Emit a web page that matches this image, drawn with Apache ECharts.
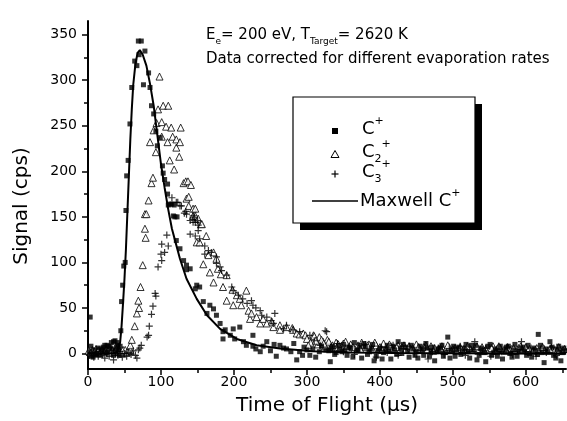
<!DOCTYPE html>
<html><head><meta charset="utf-8">
<script src="https://cdn.jsdelivr.net/npm/echarts@6/dist/echarts.min.js"></script>
<style>html,body{margin:0;padding:0;background:#fff}#c{width:567px;height:421px}</style>
</head><body><div id="c"></div>
<script>
// ---- Data ----
const xMajorTicks = [0,100,200,300,400,500,600];
const xMinorTicks = [50,150,250,350,450,550,650];
const yMajorTicks = [0,50,100,150,200,250,300,350];
const yMinorTicks = [25,75,125,175,225,275,325];

const cPlus = [
 [3,40],[2,2],[5,-3],[7,-4],[9,4],[12,0],[14,6],[16,-2],[18,5],[21,7],[23,9],[26,9],[28,8],[30,7],[32,12],[35,13],[37,14],[39,7],[41,9],[43,-2],[35,-2],[26,1],
 [4,8],[10,-1],[19,3],[24,4],[33,5],[38,3],[40,12],[42,4],[44,8],
 [45,25],[46,57],[47.5,75],[49,96],[51,100],[52,157],[53,195],[55,212],[57.5,252],[60,292],[64,321],[67,316],[69,343],[70,328],[73,343],[76,295],[78,332],
 [83,308],[85,292],[87,272],[90,263],[93,244],[95,228],[99,237],[102,206],[103,198],[105,191],[109,186],[109,175],[110,163],[113,164],[115,164],[118,163],
 [117,151],[119,150],[122,150],[121,124],[126,115],[131,102],[135,97],[140,93],[135,92],[149,75],[153,73],[147,71],[158,57],[167,53],[172,49],[163,44],
 [176,42],[181,33],[185,24],[188,26],[199,27],[208,29],[185,16],[195,20],[201,16],[213,13],[217,9],[226,20],[236,2],[226,8],[245,13],[263,9],[272,5],
 [290,2],[300,4],[308,5],[317,2],[294,-2],[286,-7],[304,-2],[326,4],
 [230,5],[240,8],[250,3],[255,10],[258,-3],[268,6],[278,2],[282,11],[296,7],[312,-4],[320,8],
 [330,3],[335,8],[340,1],[345,5],[350,10],[355,-2],[360,6],[365,12],[370,4],[375,-5],[380,7],[385,2],[390,10],[395,-3],[400,6],[405,1],[410,9],[415,-6],
 [420,4],[425,13],[430,0],[435,7],[440,-4],[445,5],[450,2],[455,8],[460,-2],[465,6],[470,3],[475,-8],[480,5],[485,9],[490,1],[493,18],[498,4],[503,-3],
 [508,7],[513,2],[518,10],[523,-5],[528,4],[533,-7],[538,6],[543,1],[548,8],[553,-2],[558,5],[563,3],[568,-6],[573,7],[578,0],[583,4],[588,-3],[593,6],
 [598,2],[603,9],[608,-4],[613,3],[617,21],[622,1],[627,5],[633,13],[638,-2],[643,4],[648,-8],[652,6],
 [332,-9],[352,4],[372,9],[392,-8],[412,3],[432,10],[452,-5],[472,7],[487,-3],[505,5],[525,9],[545,-9],[565,8],[585,10],[605,0],[625,-10],[645,8],
 [333,6],[338,-1],[343,9],[348,2],[358,7],[363,-4],[368,3],[378,11],[383,-1],[388,6],[398,3],[403,-6],[408,5],[418,8],[423,-1],[428,6],[438,3],
 [443,9],[448,-2],[458,4],[463,11],[468,-3],[478,2],[483,6],[496,-5],[501,8],[511,-1],[516,5],[521,2],[531,9],[536,-2],[541,4],[551,10],[556,1],
 [561,-3],[571,3],[576,8],[581,-4],[591,2],[596,7],[601,-2],[611,6],[616,-1],[620,9],[630,2],[636,7],[641,-5],[650,1],[655,3]
];

const c2Plus = [
 [1,3],[4,1],[6,4],[9,2],[11,5],[14,3],[17,1],[19,4],[22,2],[25,5],[27,3],[30,1],[33,4],[36,2],[39,5],[42,3],[45,1],[48,4],[51,4],[53,1],[55,2],[58,4],
 [58,9],[60,15],[64,30],[67,44],[70,50],[69,58],[72,73],[75,97],[79,127],[78,137],[78,153],
 [80,153],[83,168],[85,232],[87,187],[89,193],[90,245],[93,221],[94,253],[96,268],[98,304],[101,254],[101,238],[103,272],[107,249],[109,232],[110,272],
 [112,212],[114,248],[116,238],[118,202],[121,235],[121,226],[125,216],[126,232],[127,248],[131,187],[134,189],[135,170],[137,189],[138,172],[138,162],
 [141,185],[144,151],[144,159],[147,159],[147,151],[149,122],[151,148],[153,122],[155,142],[156,142],[158,98],[162,129],[165,108],[167,89],[172,111],
 [172,78],[176,104],[178,93],[182,87],[185,73],[190,86],[190,58],[198,70],[199,53],[204,64],[208,60],[210,53],[217,69],[220,47],[222,38],[224,44],
 [231,40],[236,33],[240,38],[245,33],[252,35],[254,29],[263,31],[263,26],[272,29],[280,28],[281,26],[286,22],[290,21],[295,22],[298,20],[309,20],
 [317,18],[322,13],[328,15],
 [300,16],[305,12],[310,19],[315,10],[320,15],[325,8],[330,13],[335,9],[340,12],[345,6],[350,11],[355,8],[360,10],[365,5],[370,9],[375,12],[380,7],
 [385,10],[390,5],[395,9],[400,7],[405,11],[410,6],[415,8],[420,5],[425,9],[430,7],[435,4],[440,8],[445,6],[450,10],[455,5],[460,7],[465,4],[470,8],
 [475,6],[480,5],[485,8],[490,4],[495,7],[500,5],[505,3],[510,7],[515,5],[520,8],[525,4],[530,6],[535,3],[540,7],[545,5],[550,4],[555,8],[560,3],
 [565,6],[570,4],[575,7],[580,5],[585,3],[590,6],[595,4],[600,7],[605,5],[610,3],[615,6],[620,4],[625,5],[630,3],[635,6],[640,4],[645,7],[650,3],
 [302,9],[312,14],[323,11],[333,7],[343,10],[353,13],[363,7],[373,5],[383,9],[393,12],[403,4],[413,10],[423,7],[433,9],[443,4],[453,7],[463,9],
 [473,3],[483,6],[493,9],[503,6],[513,3],[523,6],[533,8],[543,3],[553,6],[563,8],[573,3],[583,6],[593,8],[603,3],[613,4],[623,7],[633,5],[643,3],[653,5]
];

const c3Plus = [
 [2,-2],[5,1],[8,-4],[11,0],[14,-3],[17,2],[20,-1],[23,-5],[26,0],[29,-3],[32,3],[35,-7],[38,0],[41,-2],[44,2],[47,-4],[50,0],[53,-3],[56,1],[59,-1],
 [62,3],[65,-2],[67,-5],[69,4],[71,6],[73,9],
 [81,18],[83,20],[84,30],[87,43],[89,52],[92,66],[93,63],[96,95],[101,102],[100,109],[105,111],[101,120],[110,118],[108,130],
 [115,171],[121,166],[123,166],[126,162],[128,162],[132,154],[134,156],[135,153],[140,146],[140,131],[144,151],[144,144],[146,149],[147,144],[147,129],
 [150,146],[151,141],[151,135],[153,126],[160,118],[160,109],[165,113],[169,111],[176,106],[176,99],[181,95],[183,91],[190,86],[197,73],[199,69],
 [206,64],[212,60],[218,55],[224,58],[226,53],[230,50],[236,47],[238,42],[245,40],[256,44],[251,36],[254,33],[268,27],[272,31],[281,26],[290,24],
 [304,20],[325,25],[327,24],
 [310,14],[318,9],[335,5],[342,11],[350,2],[358,8],[365,-1],[372,6],[380,10],[388,3],[395,-4],[402,7],[410,1],[418,9],[425,-2],[432,5],[440,8],
 [447,0],[455,4],[462,7],[466,-6],[472,2],[480,6],[488,-1],[495,5],[502,3],[510,8],[517,-2],[523,4],[530,13],[537,1],[545,6],[552,-3],[560,5],
 [567,2],[575,7],[582,-1],[588,4],[594,13],[600,2],[607,6],[614,-3],[620,5],[628,1],[635,7],[642,-2],[648,4]
];

const maxwellC = [
 [0,0],[20,0],[35,0.5],[40,1],[42,3],[44,12],[46,30],[48,55],[50,82],[52,115],[54,155],[56,195],[58,235],[60,268],[62,295],[65,318],[68,330],
 [71,333],[75,328],[80,316],[85,296],[90,272],[95,240],[100,208],[105,182],[110,158],[115,137],[120,122],[126,104],[135,82],[149,60],[163,42],
 [181,27],[204,16],[231,9],[263,5.5],[308,2.5],[360,1.2],[420,0.5],[500,0.2],[600,0],[655,0]
];

// ---- Chart ----
const FONT = '"DejaVu Sans", Arial, sans-serif';
const chart = echarts.init(document.getElementById('c'), null, {renderer:'canvas'});
const plusPath = 'path://M0,5L10,5M5,0L5,10';
const supStyle = {fontSize:11, fontFamily:FONT, verticalAlign:'top', lineHeight:26, fill:'#000'};
const subStyle = {fontSize:11, fontFamily:FONT, verticalAlign:'bottom', lineHeight:26, fill:'#000'};

chart.setOption({
  animation:false,
  backgroundColor:'#fff',
  grid:{left:88, right:1, top:21, bottom:50, containLabel:false},
  xAxis:[
    {type:'value', min:0, max:655, position:'bottom', splitLine:{show:false},
      axisLine:{show:true, onZero:false, lineStyle:{color:'#000', width:2}},
      axisTick:{show:true, customValues:xMajorTicks, length:6, lineStyle:{color:'#000', width:1.5}},
      axisLabel:{customValues:xMajorTicks, margin:6, fontSize:14, color:'#000', fontFamily:FONT},
      name:'Time of Flight (µs)', nameLocation:'middle', nameGap:27,
      nameTextStyle:{fontSize:20, color:'#000', fontFamily:FONT}},
    {type:'value', min:0, max:655, position:'bottom', splitLine:{show:false},
      axisLine:{show:false, onZero:false},
      axisTick:{show:true, customValues:xMinorTicks, length:4, lineStyle:{color:'#000', width:1.5}},
      axisLabel:{show:false}}
  ],
  yAxis:[
    {type:'value', min:-17, max:365, position:'left', splitLine:{show:false},
      axisLine:{show:true, onZero:false, lineStyle:{color:'#000', width:2}},
      axisTick:{show:true, customValues:yMajorTicks, length:6, lineStyle:{color:'#000', width:1.5}},
      axisLabel:{customValues:yMajorTicks, margin:11, fontSize:14, color:'#000', fontFamily:FONT}},
    {type:'value', min:-17, max:365, position:'left', splitLine:{show:false},
      axisLine:{show:false, onZero:false},
      axisTick:{show:true, customValues:yMinorTicks, length:4, lineStyle:{color:'#000', width:1.5}},
      axisLabel:{show:false}}
  ],
  series:[
    {name:'C2+', type:'scatter', data:c2Plus, symbol:'triangle', symbolSize:7,
     itemStyle:{color:'#fff', borderColor:'#000', borderWidth:1}, z:2},
    {name:'C3+', type:'scatter', data:c3Plus, symbol:plusPath, symbolSize:7,
     itemStyle:{color:'none', borderColor:'#000', borderWidth:1.2}, z:3},
    {name:'C+', type:'scatter', data:cPlus, symbol:'rect', symbolSize:5,
     itemStyle:{color:'#000'}, z:4},
    {name:'Maxwell C+', type:'line', data:maxwellC, showSymbol:false, symbol:'none',
     lineStyle:{color:'#000', width:2}, z:5}
  ],
  graphic:[
    {type:'text', x:22, y:206, rotation:Math.PI/2, z:10, style:{
      text:'Signal (cps)', font:'20px '+FONT, fill:'#000', align:'center', verticalAlign:'middle'}},
    {type:'text', left:206, top:28, z:10, style:{
      text:'E{sub|e}= 200 eV, T{sub|Target}= 2620 K',
      font:'15px '+FONT, fill:'#000',
      rich:{sub:{fontSize:9, fontFamily:FONT, verticalAlign:'bottom', lineHeight:22, fill:'#000'}}
    }},
    {type:'text', left:206, top:52, z:10, style:{
      text:'Data corrected for different evaporation rates', font:'15px '+FONT, fill:'#000'
    }},
    {type:'rect', shape:{x:300, y:104, width:182, height:126}, style:{fill:'#000'}, z:10},
    {type:'rect', shape:{x:293, y:97, width:182, height:126}, style:{fill:'#fff', stroke:'#000', lineWidth:1.2}, z:11},
    {type:'rect', shape:{x:332, y:128, width:6, height:6}, style:{fill:'#000'}, z:12},
    {type:'polygon', shape:{points:[[335,150.5],[331,157.5],[339,157.5]]}, style:{fill:'#fff', stroke:'#000', lineWidth:1}, z:12},
    {type:'line', shape:{x1:331.5, y1:174, x2:338.5, y2:174}, style:{stroke:'#000', lineWidth:1.2}, z:12},
    {type:'line', shape:{x1:335, y1:170.5, x2:335, y2:177.5}, style:{stroke:'#000', lineWidth:1.2}, z:12},
    {type:'line', shape:{x1:312, y1:201, x2:358, y2:201}, style:{stroke:'#000', lineWidth:1.5}, z:12},
    {type:'text', left:362, top:116, z:12, style:{text:'C{sup|+}', font:'18px '+FONT, fill:'#000', rich:{sup:supStyle}}},
    {type:'text', left:362, top:139, z:12, style:{text:'C{sub|2}{sup|+}', font:'18px '+FONT, fill:'#000', rich:{sub:subStyle, sup:supStyle}}},
    {type:'text', left:362, top:159, z:12, style:{text:'C{sub|3}{sup|+}', font:'18px '+FONT, fill:'#000', rich:{sub:subStyle, sup:supStyle}}},
    {type:'text', left:360, top:188, z:12, style:{text:'Maxwell C{sup|+}', font:'18px '+FONT, fill:'#000', rich:{sup:supStyle}}}
  ]
});
</script>
</body></html>
